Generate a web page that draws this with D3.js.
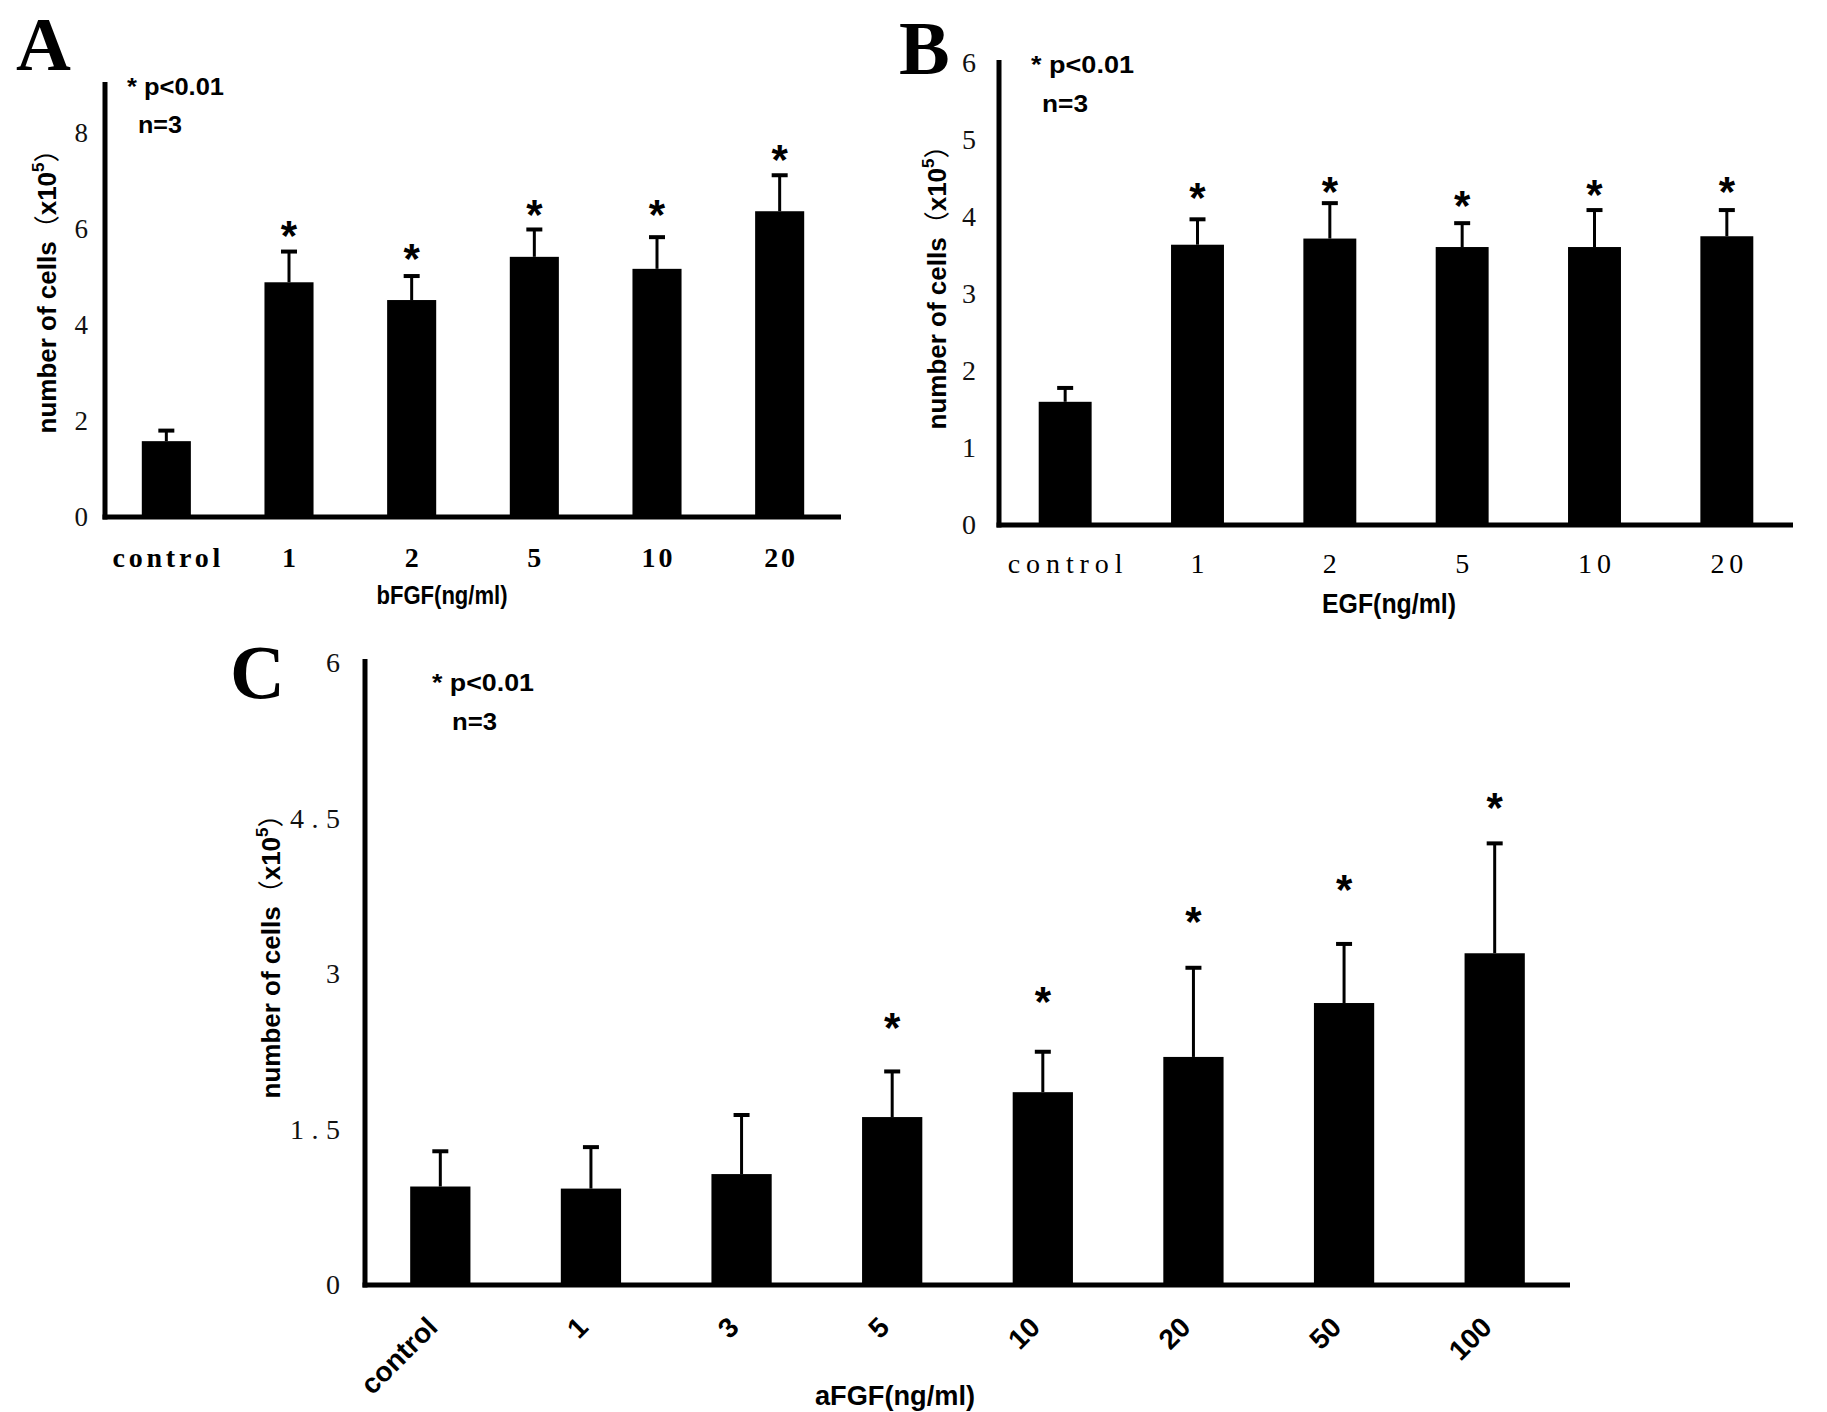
<!DOCTYPE html>
<html><head><meta charset="utf-8">
<script src="https://cdn.jsdelivr.net/npm/d3@7"></script>
<style>body{margin:0;background:#fff}svg{display:block}</style>
</head><body>
<svg id="chart" width="1827" height="1412"></svg>
<script>
// ---- Panel A: bFGF ----
const catsA = ["control","1","2","5","10","20"];
const meanA = [1.58, 4.89, 4.52, 5.42, 5.17, 6.37];
const sdA   = [0.22, 0.64, 0.50, 0.57, 0.66, 0.75];
const starA = [null, 6.06, 5.58, 6.50, 6.50, 7.65];
const ticksA = [0, 2, 4, 6, 8];
// ---- Panel B: EGF ----
const catsB = ["control","1","2","5","10","20"];
const meanB = [1.60, 3.64, 3.72, 3.61, 3.61, 3.75];
const sdB   = [0.18, 0.33, 0.46, 0.31, 0.48, 0.34];
const starB = [null, 4.38, 4.45, 4.27, 4.42, 4.45];
const ticksB = [0, 1, 2, 3, 4, 5, 6];
// ---- Panel C: aFGF ----
const catsC = ["control","1","3","5","10","20","50","100"];
const meanC = [0.95, 0.93, 1.07, 1.62, 1.86, 2.20, 2.72, 3.20];
const sdC   = [0.34, 0.40, 0.57, 0.44, 0.39, 0.86, 0.57, 1.06];
const starC = [null, null, null, 2.58, 2.83, 3.60, 3.91, 4.70];
const ticksC = [0, 1.5, 3, 4.5, 6];

const svg = d3.select("#chart");
const SERIF = "'Liberation Serif','Times New Roman',serif";
const SANS = "'Liberation Sans',Arial,sans-serif";

function panel(o) {
  const g = svg.append("g");
  const x = d3.scaleBand().domain(o.cats).range([o.x0, o.x1]).paddingInner(0.6).paddingOuter(0.3);
  const y = d3.scaleLinear().domain([0, o.ymax]).range([o.y0, o.y1]);
  const cx = d => x(d) + x.bandwidth() / 2;

  // bars
  g.selectAll("rect.bar").data(o.cats).join("rect").attr("class","bar")
    .attr("x", d => x(d)).attr("width", x.bandwidth())
    .attr("y", (d,i) => y(o.mean[i])).attr("height", (d,i) => y(0) - y(o.mean[i]))
    .attr("fill", "#000");
  // error bars (upper only)
  g.selectAll("line.err").data(o.cats).join("line").attr("class","err")
    .attr("x1", cx).attr("x2", cx)
    .attr("y1", (d,i) => y(o.mean[i])).attr("y2", (d,i) => y(o.mean[i] + o.sd[i]))
    .attr("stroke", "#000").attr("stroke-width", 3);
  g.selectAll("line.cap").data(o.cats).join("line").attr("class","cap")
    .attr("x1", d => cx(d) - 8).attr("x2", d => cx(d) + 8)
    .attr("y1", (d,i) => y(o.mean[i] + o.sd[i])).attr("y2", (d,i) => y(o.mean[i] + o.sd[i]))
    .attr("stroke", "#000").attr("stroke-width", 4);
  // asterisks
  g.selectAll("text.star").data(o.cats.filter((d,i) => o.star[i] != null)).join("text")
    .attr("class","star").attr("x", cx)
    .attr("y", d => y(o.star[o.cats.indexOf(d)]) + 24)
    .attr("text-anchor","middle").attr("font-family", SANS).attr("font-weight","bold")
    .attr("font-size", 42).text("*");

  // y axis
  const ya = g.append("g").attr("transform", `translate(${o.x0},0)`)
    .call(d3.axisLeft(y).tickValues(o.ticks).tickSize(0).tickPadding(o.tickPad).tickFormat(d3.format("~g")));
  ya.select(".domain").attr("stroke","#000").attr("stroke-width",5).attr("d", `M0,${o.y0 + 2.5}V${o.yTop}`);
  ya.selectAll("text").attr("font-family", SERIF).attr("font-size", o.tickFs).attr("fill","#111")
    .each(function(d){ if (String(d).includes(".")) d3.select(this).attr("textLength", o.decW).attr("lengthAdjust","spacing"); });

  // x axis
  const xa = g.append("g").attr("transform", `translate(0,${o.y0})`)
    .call(d3.axisBottom(x).tickSize(0).tickSizeOuter(0));
  xa.select(".domain").attr("stroke","#000").attr("stroke-width",5).attr("d", `M${o.x0 - 2.5},0H${o.x1}`);
  const tx = xa.selectAll(".tick text").attr("fill","#000");
  if (o.rotate) {
    tx.attr("font-family", SANS).attr("font-weight","bold").attr("font-size", o.catFs)
      .attr("x",0).attr("y",0).attr("dy","0.35em").attr("text-anchor","end")
      .attr("transform", `translate(-8,${o.catBase - o.y0}) rotate(-45)`);
  } else {
    tx.attr("font-family", SERIF).attr("font-weight", o.catWeight).attr("font-size", o.catFs)
      .attr("y", o.catBase - o.y0).attr("dy", 0)
      .each(function(d){ d3.select(this).attr("textLength", d.length * o.catChar).attr("lengthAdjust","spacing"); });
  }

  // x title
  g.append("text").attr("x", o.xt[0]).attr("y", o.xt[1]).attr("text-anchor","middle")
    .attr("font-family", SANS).attr("font-weight","bold").attr("font-size", o.xt[3])
    .attr("textLength", o.xt[2]).attr("lengthAdjust","spacingAndGlyphs").text(o.xTitle);

  // y title
  const yt = g.append("text").attr("transform", `translate(${o.yt[0]},${o.yt[1]}) rotate(-90)`)
    .attr("text-anchor","middle").attr("dy","0.35em")
    .attr("font-family", SANS).attr("font-weight","bold").attr("font-size", o.yt[2]);
  yt.append("tspan").text("number of cells");
  yt.append("tspan").attr("font-family","'Noto Sans CJK SC',sans-serif").attr("font-weight","normal").text("（");
  yt.append("tspan").text("x10");
  yt.append("tspan").attr("font-size", o.yt[2]*0.65).attr("dy", -o.yt[2]*0.45).text("5");
  yt.append("tspan").attr("dy", o.yt[2]*0.45).attr("font-family","'Noto Sans CJK SC',sans-serif").attr("font-weight","normal").text("）");

  // annotations
  g.append("text").attr("x", o.pAt[0]).attr("y", o.pAt[1]).attr("font-family", SANS).attr("font-weight","bold")
    .attr("font-size", o.annFs).attr("textLength", o.pAt[2]).attr("lengthAdjust","spacingAndGlyphs").text("* p<0.01");
  g.append("text").attr("x", o.nAt[0]).attr("y", o.nAt[1]).attr("font-family", SANS).attr("font-weight","bold")
    .attr("font-size", o.annFs).attr("textLength", o.nAt[2]).attr("lengthAdjust","spacingAndGlyphs").text("n=3");

  // panel letter
  g.append("text").attr("x", o.letter[0]).attr("y", o.letter[1]).attr("font-family", SERIF)
    .attr("font-weight","bold").attr("font-size", 76).text(o.letterText);
}

panel({cats: catsA, mean: meanA, sd: sdA, star: starA, ticks: ticksA, ymax: 9,
  x0: 105, x1: 841, y0: 517, y1: 85, yTop: 82, tickPad: 17, tickFs: 27, decW: 40,
  catFs: 28, catWeight: "bold", catChar: 15.4, catBase: 567,
  xTitle: "bFGF(ng/ml)", xt: [442, 604, 131, 26],
  yt: [47, 285, 26], pAt: [127, 95, 97], nAt: [138, 133, 44], annFs: 23,
  letter: [16, 70], letterText: "A"});

panel({cats: catsB, mean: meanB, sd: sdB, star: starB, ticks: ticksB, ymax: 6,
  x0: 999, x1: 1793, y0: 525, y1: 63, yTop: 60, tickPad: 23, tickFs: 28, decW: 40,
  catFs: 28, catWeight: "normal", catChar: 16.4, catBase: 573,
  xTitle: "EGF(ng/ml)", xt: [1389, 613, 134, 27],
  yt: [937, 281, 26], pAt: [1031, 73, 103], nAt: [1042, 112, 46], annFs: 23,
  letter: [899, 74], letterText: "B"});

panel({cats: catsC, mean: meanC, sd: sdC, star: starC, ticks: ticksC, ymax: 6,
  x0: 365, x1: 1570, y0: 1285, y1: 663, yTop: 659, tickPad: 25, tickFs: 28, decW: 50,
  catFs: 28, rotate: true, catBase: 1322,
  xTitle: "aFGF(ng/ml)", xt: [895, 1405, 160, 27],
  yt: [271, 950, 26], pAt: [432, 691, 102], nAt: [452, 730, 45], annFs: 23,
  letter: [230, 698], letterText: "C"});
</script>
</body></html>
